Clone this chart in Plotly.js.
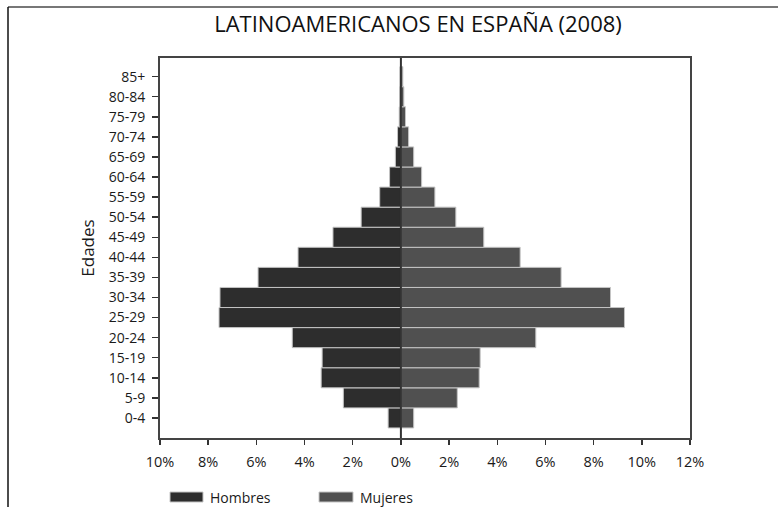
<!DOCTYPE html>
<html>
<head>
<meta charset="utf-8">
<script src="https://cdn.plot.ly/plotly-3.0.1.min.js"></script>
<style>
  html, body { margin: 0; padding: 0; background: #fff; }
  #chart { width: 778px; height: 507px; }
</style>
</head>
<body>
<div id="chart"></div>
<script>
// Age groups (bottom to top)
const ageGroups = ["0-4","5-9","10-14","15-19","20-24","25-29","30-34","35-39","40-44","45-49","50-54","55-59","60-64","65-69","70-74","75-79","80-84","85+"];
// Percentage of population (%)
const hombres = [0.53, 2.39, 3.31, 3.27, 4.51, 7.55, 7.51, 5.93, 4.27, 2.82, 1.65, 0.88, 0.47, 0.23, 0.14, 0.07, 0.05, 0.04];
const mujeres = [0.53, 2.34, 3.25, 3.29, 5.60, 9.28, 8.70, 6.65, 4.95, 3.44, 2.28, 1.41, 0.86, 0.53, 0.32, 0.19, 0.12, 0.08];
// X axis ticks
const xTickVals = [-10, -8, -6, -4, -2, 0, 2, 4, 6, 8, 10, 12];
const xTickText = ["10%", "8%", "6%", "4%", "2%", "0%", "2%", "4%", "6%", "8%", "10%", "12%"];
const seriesNames = ["Hombres", "Mujeres"];
const seriesColors = ["#2d2d2d", "#505050"];

const FONT = "'Open Sans', 'Noto Sans', sans-serif";

const traces = [
  {
    type: "bar", orientation: "h", name: seriesNames[0],
    y: ageGroups, x: hombres.map(v => -v),
    marker: { color: seriesColors[0], line: { color: "#c4c4c4", width: 1 } },
    showlegend: false, hoverinfo: "skip"
  },
  {
    type: "bar", orientation: "h", name: seriesNames[1],
    y: ageGroups, x: mujeres,
    marker: { color: seriesColors[1], line: { color: "#c4c4c4", width: 1 } },
    showlegend: false, hoverinfo: "skip"
  }
];

// plot area geometry helpers (paper coords)
const L = 160, R = 88, T = 58, B = 69, W = 778, H = 507;
const pw = W - L - R, ph = H - T - B;
const px = x => (x - L) / pw;
const py = y => (H - B - y) / ph;

const shapes = [
  // outer frame (top and left)
  { type: "line", xref: "paper", yref: "paper", x0: px(8), x1: px(778), y0: py(7), y1: py(7), line: { color: "#777", width: 2 } },
  { type: "line", xref: "paper", yref: "paper", x0: px(8), x1: px(8), y0: py(7), y1: py(507), line: { color: "#111", width: 1.5 } },
  // zero line drawn above the bars
  { type: "line", xref: "x", yref: "paper", x0: 0, x1: 0, y0: 0, y1: 1, layer: "above", line: { color: "#333", width: 2 } },
  // legend swatches
  { type: "rect", xref: "paper", yref: "paper", x0: px(170), x1: px(203), y0: py(492), y1: py(502), fillcolor: seriesColors[0], line: { color: "#c4c4c4", width: 1 } },
  { type: "rect", xref: "paper", yref: "paper", x0: px(319), x1: px(353), y0: py(492), y1: py(502), fillcolor: seriesColors[1], line: { color: "#c4c4c4", width: 1 } }
];

const annotations = [
  { xref: "paper", yref: "paper", x: px(208), y: py(497), xanchor: "left", yanchor: "middle", showarrow: false, text: seriesNames[0], font: { family: FONT, size: 14, color: "#1a1a1a" } },
  { xref: "paper", yref: "paper", x: px(358), y: py(497), xanchor: "left", yanchor: "middle", showarrow: false, text: seriesNames[1], font: { family: FONT, size: 14, color: "#1a1a1a" } }
];

const layout = {
  width: W, height: H,
  margin: { l: L, r: R, t: T, b: B, pad: 0 },
  paper_bgcolor: "#fff", plot_bgcolor: "#fff",
  font: { family: FONT, size: 14, color: "#1a1a1a" },
  title: {
    text: "LATINOAMERICANOS EN ESPAÑA (2008)",
    font: { family: FONT, size: 22, color: "#111" },
    x: px(418), xref: "paper", xanchor: "center",
    y: 1 - 24 / H, yref: "container", yanchor: "middle"
  },
  barmode: "overlay",
  bargap: 0,
  xaxis: {
    range: [-10, 12],
    tickmode: "array", tickvals: xTickVals, ticktext: xTickText,
    ticks: "outside", ticklen: 5, tickwidth: 1.5, tickcolor: "#333",
    ticklabelstandoff: 5,
    showgrid: false,
    zeroline: false,
    showline: true, linecolor: "#444", linewidth: 2, mirror: true,
    tickfont: { family: FONT, size: 14.5, color: "#1a1a1a" },
    fixedrange: true
  },
  yaxis: {
    type: "category",
    categoryorder: "array", categoryarray: ageGroups,
    range: [-1, 17.93],
    ticks: "outside", ticklen: 6, tickwidth: 1.5, tickcolor: "#333",
    ticklabelstandoff: 4,
    showgrid: false,
    showline: true, linecolor: "#444", linewidth: 2, mirror: true,
    tickfont: { family: FONT, size: 14, color: "#1a1a1a" },
    title: { text: "Edades", font: { family: FONT, size: 17, color: "#1a1a1a" }, standoff: 10 },
    fixedrange: true
  },
  shapes: shapes,
  annotations: annotations,
  showlegend: false
};

Plotly.newPlot("chart", traces, layout, { staticPlot: true, displayModeBar: false });
</script>
</body>
</html>
